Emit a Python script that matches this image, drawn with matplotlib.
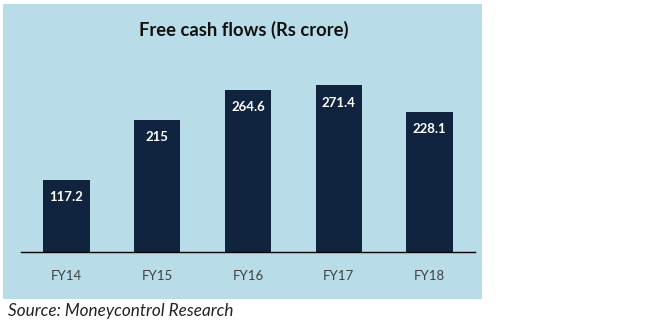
import matplotlib
matplotlib.use("Agg")
import matplotlib.pyplot as plt
from matplotlib.patches import Rectangle

categories = ["FY14", "FY15", "FY16", "FY17", "FY18"]
values = [117.2, 215, 264.6, 271.4, 228.1]
value_labels = ["117.2", "215", "264.6", "271.4", "228.1"]
title = "Free cash flows (Rs crore)"
source = "Source: Moneycontrol Research"

W, H = 671, 323
fig = plt.figure(figsize=(W / 100, H / 100), dpi=100)
fig.patch.set_facecolor("white")

def fx(px):
    return px / W

def fy(py):
    return 1 - py / H

# light blue panel
fig.patches.append(Rectangle((fx(3), fy(299)), fx(482) - fx(3), fy(4) - fy(299),
                             transform=fig.transFigure, facecolor="#b8dde8",
                             edgecolor="none", zorder=-5))

# axes: x from 21 to 475 px, baseline at 252 px, top at 50 px
ax = fig.add_axes([fx(21), fy(252), fx(475) - fx(21), fy(50) - fy(252)])
ax.set_zorder(2)
ax.set_facecolor("none")
ymax = 329
ax.set_xlim(-0.5, len(categories) - 0.5)
ax.set_ylim(0, ymax)

x = range(len(categories))
ax.bar(x, values, width=0.51, color="#10243f", zorder=2)

for xi, v, lab in zip(x, values, value_labels):
    ax.annotate(lab, (xi, v), xytext=(0, -12.5), textcoords="offset points",
                ha="center", va="center", color="white", fontsize=9.5,
                fontweight="bold", family="Lato")

ax.set_xticks(list(x))
ax.set_xticklabels(categories, family="Lato", fontsize=9.5, color="#404040")
ax.tick_params(axis="x", length=0, pad=13)
ax.set_yticks([])
for s in ["top", "right", "left"]:
    ax.spines[s].set_visible(False)
ax.spines["bottom"].set_color("black")
ax.spines["bottom"].set_linewidth(1)

fig.text(fx(244), fy(30), title, ha="center", va="center", fontsize=13.2,
         fontweight="bold", family="Lato", color="#111111")
fig.text(fx(8), fy(311), source, ha="left", va="center", fontsize=12.3,
         style="italic", family="Lato", color="#222222")

fig.savefig("out.png", dpi=100)
